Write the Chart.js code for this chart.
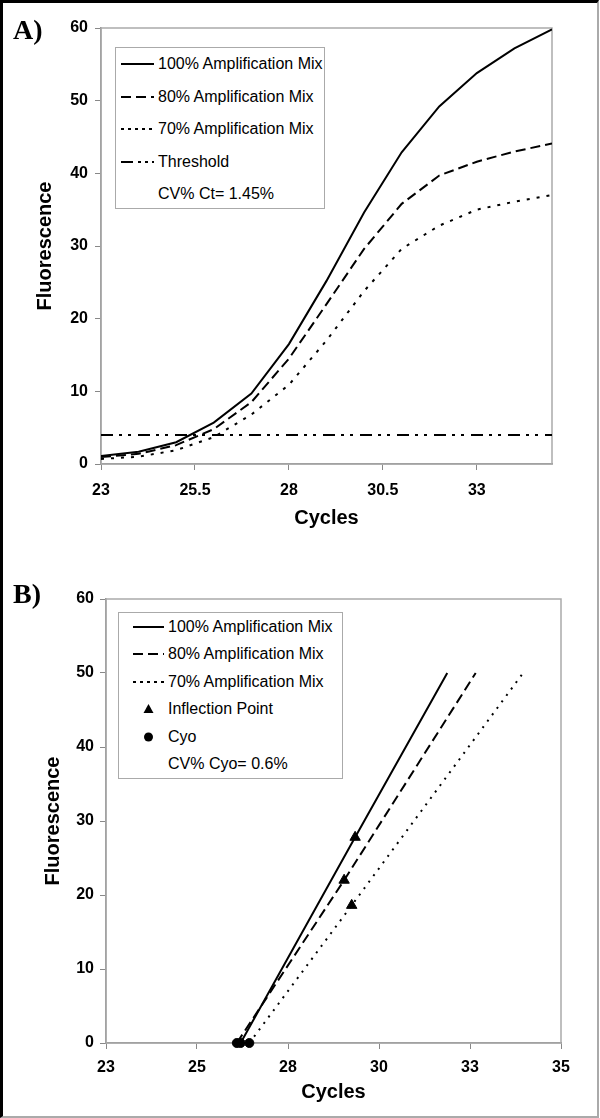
<!DOCTYPE html>
<html>
<head>
<meta charset="utf-8">
<script src="https://cdn.jsdelivr.net/npm/chart.js@4.4.1/dist/chart.umd.min.js"></script>
<style>
  html, body { margin: 0; padding: 0; background: #fff; }
  body { width: 600px; height: 1118px; position: relative; overflow: hidden; font-family: 'Liberation Sans', Arial, sans-serif; }
  canvas { position: absolute; left: 0; }
  #chartA { top: 0; }
  #chartB { top: 560px; }
  .frame { position: absolute; left: 0; top: 0; width: 599px; height: 1118px; box-sizing: border-box;
    border-top: 3px solid #000; border-left: 3px solid #000; border-right: 2px solid #aaa; border-bottom: 2px solid #aaa; pointer-events: none; }
  .tag { position: absolute; left: 13px; font: bold 28px 'Liberation Serif', 'Times New Roman', serif; line-height: 28px; }
  .legend { position: absolute; border: 1px solid #aaa; background: #fff; font-size: 16px; color: #000; }
  .legend .row { position: absolute; left: 0; height: 20px; line-height: 20px; white-space: nowrap; }
  .legend svg { position: absolute; top: 0; }
  .legend span { position: absolute; top: 0; }
</style>
</head>
<body>
<canvas id="chartA" width="600" height="560"></canvas>
<canvas id="chartB" width="600" height="558"></canvas>
<div class="tag" style="top:16px">A)</div>
<div class="tag" style="top:580px">B)</div>
<div class="legend" id="legendA" style="left:115px; top:47px; width:208px; height:160px"></div>
<div class="legend" id="legendB" style="left:118px; top:612px; width:223px; height:165px"></div>
<div class="frame"></div>

<script>
// Panel A: amplification curves
const cycles = [23, 24, 25, 26, 27, 28, 29, 30, 31, 32, 33, 34, 35];
const mix100 = [1.1, 1.7, 3.0, 5.7, 9.7, 16.5, 25.2, 34.6, 42.9, 49.2, 53.8, 57.2, 59.8];
const mix80 = [0.95, 1.4, 2.6, 4.8, 8.5, 14.5, 22.0, 29.6, 35.8, 39.7, 41.6, 43.0, 44.1];
const mix70 = [0.7, 1.0, 1.9, 3.7, 6.8, 10.9, 17.0, 23.8, 29.6, 32.8, 35.0, 36.1, 37.0];
const thresholdX = [23, 35];
const thresholdY = [4.0, 4.0];
const topXTicks = [23, 25.5, 28, 30.5, 33];

// Panel B: lines from Cyo through the inflection point (order: 100%, 80%, 70%)
const cyo = [26.55, 26.45, 26.78];
const inflX = [29.57, 29.28, 29.48];
const inflY = [27.8, 22.0, 18.6];
const lineEndX = [32.0, 32.75, 34.0];
const lineEndY = [50, 50, 50];
const bottomXTicks = [23, 25.4, 27.8, 30.2, 32.6, 35];

const seriesNames = ['100% Amplification Mix', '80% Amplification Mix', '70% Amplification Mix'];

const tickFont = { family: "'Liberation Sans', Arial, sans-serif", size: 16, weight: 'bold' };
const titleFont = { family: "'Liberation Sans', Arial, sans-serif", size: 20, weight: 'bold' };

const plotFrame = {
  id: 'plotFrame',
  beforeDatasetsDraw(chart) {
    const { ctx, chartArea: a } = chart;
    ctx.save();
    ctx.strokeStyle = '#aaa';
    ctx.lineWidth = 1.5;
    ctx.strokeRect(a.left, a.top, a.right - a.left, a.bottom - a.top);
    ctx.restore();
  },
};

function lineSet(label, xs, ys, dash) {
  return {
    label,
    data: xs.map((x, i) => ({ x, y: ys[i] })),
    borderColor: '#000',
    borderWidth: 2,
    borderDash: dash,
    pointRadius: 0,
    tension: 0,
    fill: false,
  };
}

function scales(o) {
  return {
    x: {
      type: 'linear',
      min: 23,
      max: 35,
      afterBuildTicks: (axis) => { axis.ticks = o.xTicks.map((v) => ({ value: v })); },
      afterFit: (axis) => { axis.height = o.xHeight; },
      border: { color: '#888', width: 1.5 },
      grid: { drawOnChartArea: false, tickLength: 6, tickColor: '#888' },
      ticks: { color: '#000', font: tickFont, padding: o.xPad, autoSkip: false, maxRotation: 0, callback: o.xFormat },
      title: { display: true, text: 'Cycles', color: '#000', font: titleFont, padding: { top: 0, bottom: o.xTitlePad } },
    },
    y: {
      min: 0,
      max: 60,
      afterFit: (axis) => { axis.width = o.yWidth; },
      border: { color: '#888', width: 1.5 },
      grid: { drawOnChartArea: false, tickLength: 6, tickColor: '#888' },
      ticks: { stepSize: 10, color: '#000', font: tickFont, padding: o.yPad },
      title: { display: true, text: 'Fluorescence', color: '#000', font: titleFont, padding: { top: o.yTitlePad, bottom: 0 } },
    },
  };
}

const baseOptions = {
  responsive: false,
  animation: false,
  devicePixelRatio: 1,
  plugins: { legend: { display: false }, tooltip: { enabled: false } },
};

new Chart(document.getElementById('chartA'), {
  type: 'line',
  data: {
    datasets: [
      lineSet(seriesNames[0], cycles, mix100, []),
      lineSet(seriesNames[1], cycles, mix80, [10, 5]),
      lineSet(seriesNames[2], cycles, mix70, [3, 7]),
      lineSet('Threshold', thresholdX, thresholdY, [12, 6, 3, 6, 3, 7]),
    ],
  },
  options: {
    ...baseOptions,
    layout: { padding: { top: 28, right: 48, left: 0, bottom: 0 } },
    scales: scales({ xTicks: topXTicks, xHeight: 96, xPad: 11, xTitlePad: 30, yWidth: 101, yPad: 7, yTitlePad: 33, xFormat: (v) => String(v) }),
  },
  plugins: [plotFrame],
});

new Chart(document.getElementById('chartB'), {
  type: 'line',
  data: {
    datasets: [
      lineSet(seriesNames[0], [cyo[0], inflX[0], lineEndX[0]], [0, inflY[0], lineEndY[0]], []),
      lineSet(seriesNames[1], [cyo[1], inflX[1], lineEndX[1]], [0, inflY[1], lineEndY[1]], [10, 5]),
      lineSet(seriesNames[2], [cyo[2], inflX[2], lineEndX[2]], [0, inflY[2], lineEndY[2]], [2, 6]),
      {
        label: 'Inflection Point',
        data: inflX.map((x, i) => ({ x, y: inflY[i] })),
        showLine: false,
        pointStyle: 'triangle',
        pointRadius: 6,
        pointBackgroundColor: '#000',
        pointBorderColor: '#000',
        clip: false,
      },
      {
        label: 'Cyo',
        data: cyo.map((x) => ({ x, y: 0 })),
        showLine: false,
        pointStyle: 'circle',
        pointRadius: 4.5,
        pointBackgroundColor: '#000',
        pointBorderColor: '#000',
        clip: false,
      },
    ],
  },
  options: {
    ...baseOptions,
    layout: { padding: { top: 39, right: 39, left: 0, bottom: 0 } },
    scales: scales({ xTicks: bottomXTicks, xHeight: 75, xPad: 9, xTitlePad: 14, yWidth: 106, yPad: 6, yTitlePad: 41, xFormat: (v) => String(Math.round(v)) }),
  },
  plugins: [plotFrame],
});

// legends (boxed, like the original)
function buildLegend(el, entries, o) {
  el.innerHTML = entries
    .map((e, i) => {
      const top = o.first + o.step * i - 10;
      let sample = '';
      if (e.dash !== undefined) {
        sample = `<svg width="${o.sampleW}" height="20" style="left:${o.sampleX}px"><line x1="0" y1="10" x2="${o.sampleW}" y2="10" stroke="#000" stroke-width="2" stroke-dasharray="${e.dash}"/></svg>`;
      } else if (e.marker === 'triangle') {
        const c = o.sampleW / 2;
        sample = `<svg width="${o.sampleW}" height="20" style="left:${o.sampleX}px"><polygon points="${c},5 ${c - 5},14 ${c + 5},14" fill="#000"/></svg>`;
      } else if (e.marker === 'circle') {
        sample = `<svg width="${o.sampleW}" height="20" style="left:${o.sampleX}px"><circle cx="${o.sampleW / 2}" cy="10" r="4.5" fill="#000"/></svg>`;
      }
      return `<div class="row" style="top:${top}px">${sample}<span style="left:${o.textX}px">${e.label}</span></div>`;
    })
    .join('');
}

buildLegend(
  document.getElementById('legendA'),
  [
    { label: seriesNames[0], dash: 'none' },
    { label: seriesNames[1], dash: '10 5' },
    { label: seriesNames[2], dash: '3 4' },
    { label: 'Threshold', dash: '12 5 3 4 3 4' },
    { label: 'CV% Ct= 1.45%' },
  ],
  { first: 16, step: 32.5, sampleX: 5, sampleW: 33, textX: 42 }
);

buildLegend(
  document.getElementById('legendB'),
  [
    { label: seriesNames[0], dash: 'none' },
    { label: seriesNames[1], dash: '10 5' },
    { label: seriesNames[2], dash: '3 4' },
    { label: 'Inflection Point', marker: 'triangle' },
    { label: 'Cyo', marker: 'circle' },
    { label: 'CV% Cyo= 0.6%' },
  ],
  { first: 14, step: 27.4, sampleX: 14, sampleW: 31, textX: 49 }
);
</script>
</body>
</html>
